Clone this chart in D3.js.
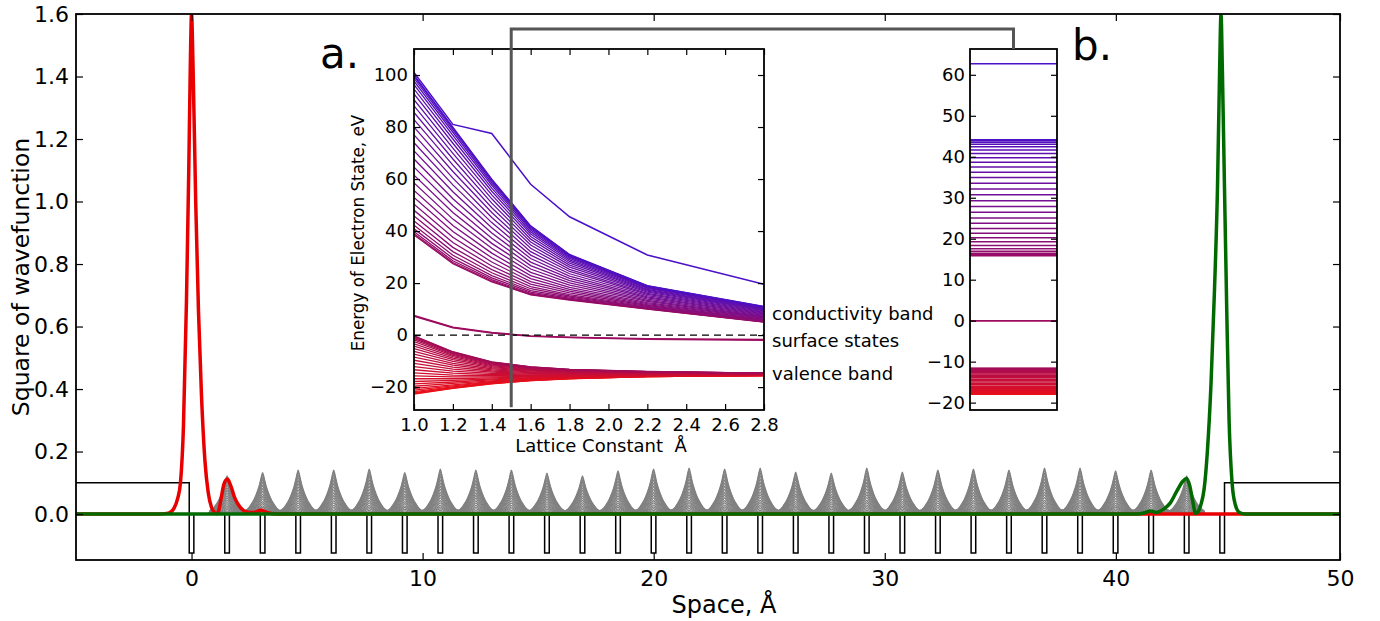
<!DOCTYPE html>
<html>
<head>
<meta charset="utf-8">
<script src="https://cdn.jsdelivr.net/npm/d3@7"></script>
<style>
  body { margin: 0; background: #fff; }
  svg { display: block; font-family: "DejaVu Sans", sans-serif; }
</style>
</head>
<body>
<svg id="chart" width="1380" height="621"></svg>
<script>
// ---------------- data: main plot (wavefunctions in the chain) ----------------
const latticeConst = 1.538;
const nAtoms = 30;
const wellHalfWidth = 0.1;
const wellDepth = -0.125;
const barrierLevel = 0.1;

// height of the gray |psi|^2 peaks at each atom
const grayPeaks = [0.0, 0.122, 0.133, 0.141, 0.141, 0.144, 0.133, 0.144, 0.141, 0.141,
                   0.131, 0.122, 0.138, 0.144, 0.147, 0.144, 0.147, 0.134, 0.131, 0.147,
                   0.134, 0.141, 0.144, 0.141, 0.147, 0.147, 0.138, 0.141, 0.122, 0.0];
// shape of one peak: distance from atom -> share of the peak height
const peakOffsets = [0.74, 0.6, 0.5, 0.4, 0.3, 0.2, 0.15, 0.1, 0.05, 0];
const peakShape   = [0.09, 0.15, 0.23, 0.32, 0.44, 0.59, 0.68, 0.79, 0.91, 1];
// the overlapping gray states, as shares of the envelope
const stateScales = [1, 0.95, 0.89, 0.83, 0.76, 0.69, 0.62, 0.55, 0.48, 0.42, 0.36,
                     0.3, 0.25, 0.2, 0.16, 0.12, 0.08, 0.05, 0.02];

// left surface state (red)
const redX = [-5, -1.5, -1.0, -0.75, -0.6, -0.48, -0.35, -0.22, -0.12, -0.05, 0, 0.06, 0.18, 0.3,
              0.43, 0.58, 0.72, 0.87, 1.0, 1.1, 1.18, 1.28, 1.4, 1.55, 1.7, 1.88, 2.1, 2.4, 2.7,
              3.0, 3.3, 3.7, 49.7];
const redY = [0, 0, 0.003, 0.02, 0.05, 0.1, 0.28, 0.68, 1.1, 1.45, 1.6, 1.45, 1.0, 0.65,
              0.38, 0.17, 0.07, 0.02, 0.005, 0.001, 0.012, 0.05, 0.095, 0.112, 0.09, 0.05, 0.022, 0.007, 0.005,
              0.012, 0.004, 0, 0];
// right surface state (green)
const greenX = [-5, 40.9, 41.25, 41.5, 41.75, 42.05, 42.35, 42.65, 42.9, 43.06, 43.2, 43.33, 43.45,
                43.56, 43.68, 43.82, 43.96, 44.12, 44.27, 44.4, 44.49, 44.55, 44.61, 44.7, 44.8,
                44.9, 45.03, 45.17, 45.35, 45.6, 49.7];
const greenY = [0, 0, 0.004, 0.01, 0.005, 0.015, 0.035, 0.075, 0.105, 0.114, 0.09, 0.04, 0.002,
                0.008, 0.03, 0.08, 0.2, 0.42, 0.72, 1.05, 1.42, 1.6, 1.42, 1.05, 0.65,
                0.3, 0.1, 0.03, 0.005, 0, 0];

const mainXTicks = [0, 10, 20, 30, 40, 49.7];
const mainXLabels = ["0", "10", "20", "30", "40", "50"];
const mainYTicks = [0, 0.2, 0.4, 0.6, 0.8, 1.0, 1.2, 1.4, 1.6];

// ---------------- data: inset a (energy vs lattice constant) ----------------
const latticeA   = [1.0, 1.2, 1.4, 1.6, 1.8, 2.2, 2.8];
const condTop    = [100, 80, 60, 42, 31, 19, 11];
const condBottom = [38.5, 27.5, 20.5, 15.5, 13.5, 10, 5];
const valTop     = [-0.3, -6.4, -10.3, -12.2, -13.2, -14.0, -14.6];
const valBottom  = [-22.7, -20.5, -18.7, -17.5, -16.8, -16.0, -15.6];
const surfaceA1  = [7.5, 3.0, 1.0, -0.3, -0.8, -1.4, -1.7];
const surfaceA2  = [7.3, 2.8, 0.8, -0.4, -0.95, -1.55, -2.0];
const topStateA  = [101, 81, 77.5, 58, 45.5, 30.8, 19.5];
const insetAXTicks = [1.0, 1.2, 1.4, 1.6, 1.8, 2.0, 2.2, 2.4, 2.6, 2.8];
const insetAYTicks = [-20, 0, 20, 40, 60, 80, 100];
const bandNames = ["conductivity band", "surface states", "valence band"];
const bandNameE = [5.8, -4.5, -17.3];

// ---------------- data: inset b (levels at lattice constant 1.5) ----------------
const levelsValence = [-17.98, -17.93, -17.83, -17.70, -17.54, -17.35, -17.12, -16.87, -16.60, -16.30,
                       -15.98, -15.66, -15.32, -14.97, -14.63, -14.28, -13.94, -13.62, -13.30, -13.00,
                       -12.73, -12.48, -12.25, -12.06, -11.90, -11.77, -11.67, -11.62];
const levelsSurface = [0.0, 0.0];
const levelsConduction = [15.87, 16.09, 16.45, 16.95, 17.58, 18.35, 19.23, 20.22, 21.31, 22.49,
                          23.75, 25.07, 26.44, 27.85, 29.28, 30.72, 32.15, 33.56, 34.93, 36.25,
                          37.51, 38.69, 39.78, 40.77, 41.65, 42.42, 43.05, 43.55, 43.91, 44.13];
const levelTop = 62.7;
const insetBYTicks = [-20, -10, 0, 10, 20, 30, 40, 50, 60];

// ---------------- layout ----------------
const svg = d3.select("#chart");
const M = {left: 76, right: 1340, top: 14, bottom: 560};
const A = {left: 414, right: 764, top: 49, bottom: 410};
const B = {left: 970, right: 1057, top: 49, bottom: 410};

const x = d3.scaleLinear().domain([-5, 49.7]).range([M.left, M.right]);
const y = d3.scaleLinear().domain([-0.147, 1.6]).range([M.bottom, M.top]);
const xa = d3.scaleLinear().domain([1.0, 2.8]).range([A.left, A.right]);
const ya = d3.scaleLinear().domain([-28.8, 110]).range([A.bottom, A.top]);
const yb = d3.scaleLinear().domain([-21.8, 66.3]).range([B.bottom, B.top]);

const nStates = levelsValence.length + levelsSurface.length + levelsConduction.length + 1;
const stateColor = d3.scaleLinear()
  .domain([0, 0.47, 1])
  .range(["#ee1016", "#9e0c5c", "#4b10c8"])
  .interpolate(d3.interpolateRgb);
const colorOf = i => stateColor(i / (nStates - 1));

const defs = svg.append("defs");
function clip(id, r) {
  defs.append("clipPath").attr("id", id)
    .append("rect").attr("x", r.left).attr("y", r.top)
    .attr("width", r.right - r.left).attr("height", r.bottom - r.top);
}
clip("clipM", M); clip("clipA", A); clip("clipB", B);

// ---------------- main plot ----------------
const atoms = d3.range(nAtoms).map(i => i * latticeConst);
const gMain = svg.append("g").attr("clip-path", "url(#clipM)");

// potential profile
let pot = [[-5, barrierLevel]];
atoms.forEach((xi, i) => {
  pot.push([xi - wellHalfWidth, i === 0 ? barrierLevel : 0]);
  pot.push([xi - wellHalfWidth, wellDepth]);
  pot.push([xi + wellHalfWidth, wellDepth]);
  pot.push([xi + wellHalfWidth, i === nAtoms - 1 ? barrierLevel : 0]);
});
pot.push([49.7, barrierLevel]);
const lineM = d3.line().x(d => x(d[0])).y(d => y(d[1]));
gMain.append("path").attr("d", lineM(pot))
  .attr("fill", "none").attr("stroke", "#000").attr("stroke-width", 1.5);

// gray states
const lineSmooth = d3.line().x(d => x(d[0])).y(d => y(d[1])).curve(d3.curveMonotoneX);
stateScales.forEach(s => {
  const pts = [[-5, 0]];
  atoms.forEach((xi, i) => {
    peakOffsets.forEach((o, k) => pts.push([xi - o, s * grayPeaks[i] * peakShape[k]]));
    for (let k = peakOffsets.length - 2; k >= 0; k--) {
      pts.push([xi + peakOffsets[k], s * grayPeaks[i] * peakShape[k]]);
    }
  });
  pts.push([49.7, 0]);
  gMain.append("path").attr("d", lineSmooth(pts))
    .attr("fill", "none").attr("stroke", "#808080").attr("stroke-width", 1.2);
});

gMain.append("path").attr("d", lineSmooth(redX.map((v, i) => [v, redY[i]])))
  .attr("fill", "none").attr("stroke", "#e80000").attr("stroke-width", 3.5);
gMain.append("path").attr("d", lineSmooth(greenX.map((v, i) => [v, greenY[i]])))
  .attr("fill", "none").attr("stroke", "#006a00").attr("stroke-width", 3.5);

// main axes
function styleAxis(g, fontSize) {
  g.select(".domain").remove();
  g.selectAll(".tick line").attr("stroke", "#000").attr("stroke-width", 1.2);
  g.selectAll(".tick text").attr("fill", "#000").style("font-size", fontSize + "px")
    .style("font-family", "DejaVu Sans, sans-serif");
}
svg.append("g").attr("transform", `translate(0,${M.bottom})`)
  .call(d3.axisBottom(x).tickValues(mainXTicks).tickFormat((d, i) => mainXLabels[i])
    .tickSizeInner(-7).tickSizeOuter(0).tickPadding(10))
  .call(g => styleAxis(g, 22));
svg.append("g").attr("transform", `translate(0,${M.top})`)
  .call(d3.axisTop(x).tickValues(mainXTicks).tickFormat("").tickSizeInner(-7).tickSizeOuter(0))
  .call(g => styleAxis(g, 22));
svg.append("g").attr("transform", `translate(${M.left},0)`)
  .call(d3.axisLeft(y).tickValues(mainYTicks).tickFormat(d3.format(".1f"))
    .tickSizeInner(-7).tickSizeOuter(0).tickPadding(7))
  .call(g => styleAxis(g, 22));
svg.append("g").attr("transform", `translate(${M.right},0)`)
  .call(d3.axisRight(y).tickValues(mainYTicks).tickFormat("").tickSizeInner(-7).tickSizeOuter(0))
  .call(g => styleAxis(g, 22));
svg.append("rect").attr("x", M.left).attr("y", M.top)
  .attr("width", M.right - M.left).attr("height", M.bottom - M.top)
  .attr("fill", "none").attr("stroke", "#000").attr("stroke-width", 1.8);

svg.append("text").attr("x", 724).attr("y", 613).attr("text-anchor", "middle")
  .style("font-size", "24px").text("Space, Å");
svg.append("text").attr("transform", "translate(29,277) rotate(-90)")
  .attr("text-anchor", "middle").style("font-size", "23.5px").text("Square of wavefunction");

// ---------------- inset a ----------------
svg.append("rect").attr("x", A.left).attr("y", A.top)
  .attr("width", A.right - A.left).attr("height", A.bottom - A.top).attr("fill", "#fff");
const gA = svg.append("g").attr("clip-path", "url(#clipA)");
const lineA = d3.line().x((d, j) => xa(latticeA[j])).y(d => ya(d));

const vMin = d3.min(levelsValence), vMax = d3.max(levelsValence);
const cMin = d3.min(levelsConduction), cMax = d3.max(levelsConduction);
levelsValence.forEach((e, i) => {
  const f = (e - vMin) / (vMax - vMin);
  const vals = latticeA.map((_, j) => valBottom[j] + f * (valTop[j] - valBottom[j]));
  gA.append("path").attr("d", lineA(vals)).attr("fill", "none")
    .attr("stroke", colorOf(i)).attr("stroke-width", 1.3);
});
[surfaceA1, surfaceA2].forEach((vals, k) => {
  gA.append("path").attr("d", lineA(vals)).attr("fill", "none")
    .attr("stroke", colorOf(levelsValence.length + k)).attr("stroke-width", 1.5);
});
levelsConduction.forEach((e, i) => {
  const f = (e - cMin) / (cMax - cMin);
  const vals = latticeA.map((_, j) => condBottom[j] + f * (condTop[j] - condBottom[j]));
  gA.append("path").attr("d", lineA(vals)).attr("fill", "none")
    .attr("stroke", colorOf(levelsValence.length + levelsSurface.length + i)).attr("stroke-width", 1.3);
});
gA.append("path").attr("d", lineA(topStateA)).attr("fill", "none")
  .attr("stroke", colorOf(nStates - 1)).attr("stroke-width", 1.5);
gA.append("line").attr("x1", A.left).attr("x2", A.right).attr("y1", ya(0)).attr("y2", ya(0))
  .attr("stroke", "#000").attr("stroke-width", 1.4).attr("stroke-dasharray", "7,5");

svg.append("g").attr("transform", `translate(0,${A.bottom})`)
  .call(d3.axisBottom(xa).tickValues(insetAXTicks).tickFormat(d3.format(".1f"))
    .tickSizeInner(-6).tickSizeOuter(0).tickPadding(8))
  .call(g => styleAxis(g, 18));
svg.append("g").attr("transform", `translate(0,${A.top})`)
  .call(d3.axisTop(xa).tickValues(insetAXTicks).tickFormat("").tickSizeInner(-6).tickSizeOuter(0))
  .call(g => styleAxis(g, 18));
svg.append("g").attr("transform", `translate(${A.left},0)`)
  .call(d3.axisLeft(ya).tickValues(insetAYTicks).tickFormat(d3.format("d"))
    .tickSizeInner(-6).tickSizeOuter(0).tickPadding(6))
  .call(g => styleAxis(g, 18));
svg.append("g").attr("transform", `translate(${A.right},0)`)
  .call(d3.axisRight(ya).tickValues(insetAYTicks).tickFormat("").tickSizeInner(-6).tickSizeOuter(0))
  .call(g => styleAxis(g, 18));
svg.append("rect").attr("x", A.left).attr("y", A.top)
  .attr("width", A.right - A.left).attr("height", A.bottom - A.top)
  .attr("fill", "none").attr("stroke", "#000").attr("stroke-width", 1.8);

svg.append("text").attr("x", 601).attr("y", 452).attr("text-anchor", "middle")
  .style("font-size", "18px").style("white-space", "pre").text("Lattice Constant  Å");
svg.append("text").attr("transform", "translate(364,233) rotate(-90)")
  .attr("text-anchor", "middle").style("font-size", "16.8px").text("Energy of Electron State, eV");
bandNames.forEach((t, i) => {
  svg.append("text").attr("x", A.right + 8).attr("y", ya(bandNameE[i]))
    .style("font-size", "18px").text(t);
});
svg.append("text").attr("x", 320).attr("y", 68).style("font-size", "42px").text("a.");

// ---------------- inset b ----------------
svg.append("rect").attr("x", B.left).attr("y", B.top)
  .attr("width", B.right - B.left).attr("height", B.bottom - B.top).attr("fill", "#fff");
const gB = svg.append("g").attr("clip-path", "url(#clipB)");
const allLevels = levelsValence.concat(levelsSurface, levelsConduction, [levelTop]);
allLevels.forEach((e, i) => {
  gB.append("line").attr("x1", B.left).attr("x2", B.right)
    .attr("y1", yb(e)).attr("y2", yb(e))
    .attr("stroke", colorOf(i)).attr("stroke-width", 1.5);
});
svg.append("g").attr("transform", `translate(${B.left},0)`)
  .call(d3.axisLeft(yb).tickValues(insetBYTicks).tickFormat(d3.format("d"))
    .tickSizeInner(-6).tickSizeOuter(0).tickPadding(5))
  .call(g => styleAxis(g, 18));
svg.append("g").attr("transform", `translate(${B.right},0)`)
  .call(d3.axisRight(yb).tickValues(insetBYTicks).tickFormat("").tickSizeInner(-6).tickSizeOuter(0))
  .call(g => styleAxis(g, 18));
svg.append("rect").attr("x", B.left).attr("y", B.top)
  .attr("width", B.right - B.left).attr("height", B.bottom - B.top)
  .attr("fill", "none").attr("stroke", "#000").attr("stroke-width", 1.8);
svg.append("text").attr("x", 1072).attr("y", 60).style("font-size", "42px").text("b.");

// ---------------- bracket linking inset a (lattice 1.5) to inset b ----------------
const bx = xa(1.5), bTop = 29, bRight = (B.left + B.right) / 2;
svg.append("path")
  .attr("d", `M${bx},${ya(-27.7)}V${bTop}H${bRight}V${B.top}`)
  .attr("fill", "none").attr("stroke", "#555").attr("stroke-width", 3);
</script>
</body>
</html>
